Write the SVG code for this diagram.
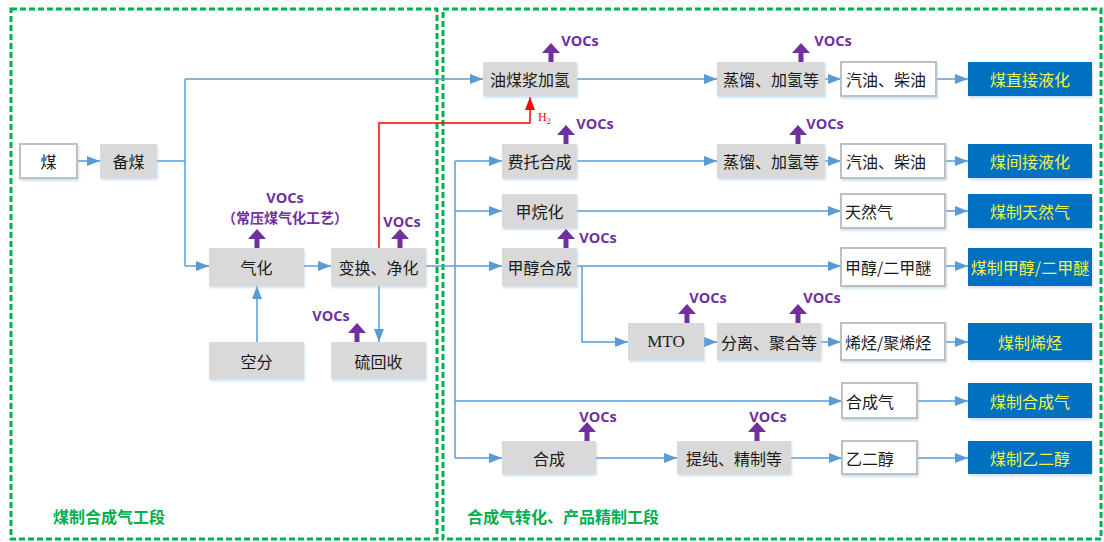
<svg xmlns="http://www.w3.org/2000/svg" xmlns:xlink="http://www.w3.org/1999/xlink" width="1104" height="542" viewBox="0 0 1104 542">
<style>
.zone{fill:none;stroke:#00B050;stroke-width:3;stroke-dasharray:6 3}
.g{fill:#D9D9D9;filter:url(#sh)}
.w{fill:#FFFFFF;stroke:#BFBFBF;stroke-width:2;filter:url(#sh)}
.b{fill:#0070C0;filter:url(#sh)}
.t{font-family:"Noto Sans CJK SC","Liberation Sans",sans-serif;font-size:16px;fill:#1A1A1A;text-anchor:middle;dominant-baseline:central}
.ts{font-family:"Liberation Serif",serif;font-size:17px;fill:#1A1A1A;text-anchor:middle;dominant-baseline:central}
.tl{font-family:"Noto Sans CJK SC","Liberation Sans",sans-serif;font-size:16px;fill:#1A1A1A;dominant-baseline:central}
.ty{font-family:"Noto Sans CJK SC","Liberation Sans",sans-serif;font-size:16px;fill:#F2F545;text-anchor:middle;dominant-baseline:central}
.v{font-family:"Open Sans","Liberation Sans",sans-serif;font-weight:bold;font-size:14.5px;fill:#7030A0;text-anchor:middle;dominant-baseline:central}
.vc{font-family:"Noto Sans CJK SC",sans-serif;font-weight:bold;font-size:14px;fill:#7030A0;text-anchor:middle;dominant-baseline:central}
.sec{font-family:"Noto Sans CJK SC",sans-serif;font-weight:bold;font-size:16px;fill:#00B050;dominant-baseline:central}
.c{fill:none;stroke:#5B9BD5;stroke-width:1.5}
.ca{fill:none;stroke:#5B9BD5;stroke-width:1.5;marker-end:url(#ab)}
.va{fill:#7030A0}
</style>
<defs>
<filter id="sh" x="-10%" y="-10%" width="120%" height="130%">
<feDropShadow dx="1" dy="2" stdDeviation="1" flood-color="#9DC3E6" flood-opacity="0.5"/>
</filter>
<marker id="ab" markerUnits="userSpaceOnUse" markerWidth="13" markerHeight="10" refX="13" refY="5" orient="auto">
<path d="M0,0 L13,5 L0,10 Z" fill="#5B9BD5"/>
</marker>
<marker id="ar" markerUnits="userSpaceOnUse" markerWidth="13" markerHeight="10" refX="13" refY="5" orient="auto">
<path d="M0,0 L13,5 L0,10 Z" fill="#FF0000"/>
</marker>
<path id="up" d="M0,0 L-9,10 L-2.5,10 L-2.5,19 L2.5,19 L2.5,10 L9,10 Z"/>
</defs>
<rect width="1104" height="542" fill="#FFFFFF"/>

<g id="zones">
<rect class="zone" x="11" y="9" width="426" height="530"/>
<rect class="zone" x="443" y="9" width="658" height="530"/>
<text class="sec" x="53" y="516">煤制合成气工段</text>
<text class="sec" x="467" y="516">合成气转化、产品精制工段</text>
</g>

<g id="connectors">
<path class="ca" d="M77,161 H100"/>
<path class="c" d="M157,161 H185"/>
<path class="c" d="M185,79 V266"/>
<path class="ca" d="M185,79 H483"/>
<path class="ca" d="M185,266 H209"/>
<path class="ca" d="M304,266 H331"/>
<path class="ca" d="M257,342 V286"/>
<path class="ca" d="M379,286 V342"/>
<path d="M379,248 V123 H530 V97" fill="none" stroke="#FF0000" stroke-width="1.5" marker-end="url(#ar)"/>
<path class="ca" d="M426,266 H502"/>
<path class="c" d="M455,161 V458"/>
<path class="ca" d="M455,161 H502"/>
<path class="ca" d="M455,211 H502"/>
<path class="ca" d="M455,401 H842"/>
<path class="ca" d="M455,458 H502"/>
<path class="ca" d="M577,79 H717"/>
<path class="ca" d="M825,79 H841"/>
<path class="ca" d="M936,79 H968"/>
<path class="ca" d="M577,161 H717"/>
<path class="ca" d="M825,161 H841"/>
<path class="ca" d="M945,161 H968"/>
<path class="ca" d="M577,211 H841"/>
<path class="ca" d="M945,211 H968"/>
<path class="ca" d="M577,266 H841"/>
<path class="ca" d="M945,266 H968"/>
<path class="ca" d="M582,266 V342 H628"/>
<path class="ca" d="M704,342 H717"/>
<path class="ca" d="M821,342 H841"/>
<path class="ca" d="M945,342 H968"/>
<path class="ca" d="M917,401 H968"/>
<path class="ca" d="M596,458 H677"/>
<path class="ca" d="M791,458 H842"/>
<path class="ca" d="M917,458 H968"/>
</g>

<g id="n-mei"><rect class="w" x="20" y="144" width="57" height="34"/><text class="t" x="48.5" y="161">煤</text></g>
<g id="n-beimei"><rect class="g" x="100" y="144" width="57" height="34"/><text class="t" x="128.5" y="161">备煤</text></g>
<g id="n-qihua"><rect class="g" x="209" y="248" width="95" height="38"/><text class="t" x="256.5" y="267">气化</text>
<use xlink:href="#up" href="#up" class="va" x="257" y="229"/>
<text class="v" x="285" y="197">VOCs</text>
<text class="vc" x="285" y="217">（常压煤气化工艺）</text></g>
<g id="n-bianhuan"><rect class="g" x="331" y="248" width="95" height="38"/><text class="t" x="378.5" y="267">变换、净化</text>
<use xlink:href="#up" href="#up" class="va" x="400" y="229"/>
<text class="v" x="402" y="221">VOCs</text></g>
<g id="n-kongfen"><rect class="g" x="209" y="342" width="95" height="37"/><text class="t" x="256.5" y="360.5">空分</text></g>
<g id="n-liuhuishou"><rect class="g" x="331" y="342" width="95" height="37"/><text class="t" x="378.5" y="360.5">硫回收</text>
<use xlink:href="#up" href="#up" class="va" x="357" y="323"/>
<text class="v" x="331" y="315">VOCs</text></g>

<g id="n-youmeijiang"><rect class="g" x="483" y="62" width="94" height="34"/><text class="t" x="530" y="79">油煤浆加氢</text>
<use xlink:href="#up" href="#up" class="va" x="551" y="43"/>
<text class="v" x="580" y="40">VOCs</text>
<text x="538" y="121" font-family="Liberation Serif,serif" font-size="12" fill="#FF0000">H<tspan font-size="8" dy="3">2</tspan></text></g>
<g id="n-feituo"><rect class="g" x="502" y="144" width="75" height="34"/><text class="t" x="539.5" y="161">费托合成</text>
<use xlink:href="#up" href="#up" class="va" x="566" y="125"/>
<text class="v" x="595" y="123">VOCs</text></g>
<g id="n-jiawanhua"><rect class="g" x="502" y="194" width="75" height="34"/><text class="t" x="539.5" y="211">甲烷化</text></g>
<g id="n-jiachun"><rect class="g" x="502" y="248" width="75" height="38"/><text class="t" x="539.5" y="267">甲醇合成</text>
<use xlink:href="#up" href="#up" class="va" x="566" y="229"/>
<text class="v" x="598" y="237">VOCs</text></g>
<g id="n-mto"><rect class="g" x="628" y="323" width="76" height="37"/><text class="ts" x="666" y="341.5">MTO</text>
<use xlink:href="#up" href="#up" class="va" x="687" y="304"/>
<text class="v" x="708" y="297">VOCs</text></g>
<g id="n-hecheng"><rect class="g" x="502" y="441" width="94" height="33"/><text class="t" x="549" y="457.5">合成</text>
<use xlink:href="#up" href="#up" class="va" x="587" y="422"/>
<text class="v" x="598" y="416">VOCs</text></g>

<g id="n-zhengliu1"><rect class="g" x="717" y="62" width="108" height="34"/><text class="t" x="771" y="79">蒸馏、加氢等</text>
<use xlink:href="#up" href="#up" class="va" x="801" y="43"/>
<text class="v" x="833" y="40">VOCs</text></g>
<g id="n-zhengliu2"><rect class="g" x="717" y="144" width="108" height="34"/><text class="t" x="771" y="161">蒸馏、加氢等</text>
<use xlink:href="#up" href="#up" class="va" x="798" y="125"/>
<text class="v" x="825" y="123">VOCs</text></g>
<g id="n-fenli"><rect class="g" x="717" y="323" width="104" height="37"/><text class="t" x="769" y="341.5">分离、聚合等</text>
<use xlink:href="#up" href="#up" class="va" x="798" y="304"/>
<text class="v" x="822" y="297">VOCs</text></g>
<g id="n-tichun"><rect class="g" x="677" y="441" width="114" height="33"/><text class="t" x="734" y="457.5">提纯、精制等</text>
<use xlink:href="#up" href="#up" class="va" x="757" y="422"/>
<text class="v" x="768" y="416">VOCs</text></g>

<g id="n-qiyou1"><rect class="w" x="841" y="62" width="95" height="34"/><text class="tl" x="846" y="79">汽油、柴油</text></g>
<g id="n-qiyou2"><rect class="w" x="841" y="144" width="104" height="34"/><text class="tl" x="846" y="161">汽油、柴油</text></g>
<g id="n-tianranqi"><rect class="w" x="841" y="194" width="104" height="34"/><text class="tl" x="845" y="211">天然气</text></g>
<g id="n-jiachun2"><rect class="w" x="841" y="248" width="104" height="38"/><text class="tl" x="845" y="267">甲醇/二甲醚</text></g>
<g id="n-xiting"><rect class="w" x="841" y="323" width="104" height="37"/><text class="tl" x="845" y="341.5">烯烃/聚烯烃</text></g>
<g id="n-hechengqi"><rect class="w" x="842" y="383" width="75" height="35"/><text class="tl" x="846" y="400.5">合成气</text></g>
<g id="n-yierchun"><rect class="w" x="842" y="441" width="75" height="33"/><text class="tl" x="846" y="457.5">乙二醇</text></g>

<g id="p-zhijie"><rect class="b" x="968" y="62" width="124" height="34"/><text class="ty" x="1030" y="79">煤直接液化</text></g>
<g id="p-jianjie"><rect class="b" x="968" y="144" width="124" height="34"/><text class="ty" x="1030" y="161">煤间接液化</text></g>
<g id="p-tianranqi"><rect class="b" x="968" y="194" width="124" height="34"/><text class="ty" x="1030" y="211">煤制天然气</text></g>
<g id="p-jiachun"><rect class="b" x="968" y="248" width="124" height="38"/><text class="ty" x="1030" y="267">煤制甲醇/二甲醚</text></g>
<g id="p-xiting"><rect class="b" x="968" y="323" width="124" height="37"/><text class="ty" x="1030" y="341.5">煤制烯烃</text></g>
<g id="p-hechengqi"><rect class="b" x="968" y="383" width="124" height="35"/><text class="ty" x="1030" y="400.5">煤制合成气</text></g>
<g id="p-yierchun"><rect class="b" x="968" y="441" width="124" height="33"/><text class="ty" x="1030" y="457.5">煤制乙二醇</text></g>
</svg>
